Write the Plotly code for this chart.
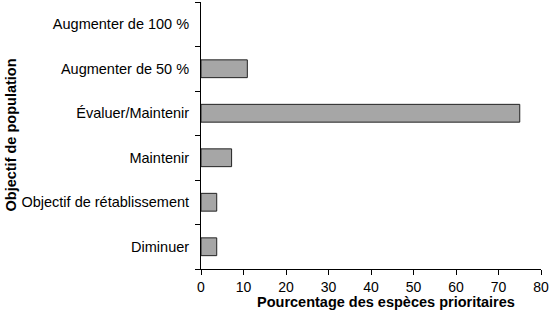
import plotly.graph_objects as go

categories = ["Diminuer", "Objectif de rétablissement", "Maintenir",
              "Évaluer/Maintenir", "Augmenter de 50 %", "Augmenter de 100 %"]
values = [3.7, 3.7, 7.2, 75.0, 10.9, 0.0]
x_ticks = [0, 10, 20, 30, 40, 50, 60, 70, 80]

FONT = "Liberation Sans, Arial, sans-serif"

fig = go.Figure(go.Bar(
    x=values, y=categories, orientation="h", width=0.4,
    marker=dict(color="#a6a6a6",
                line=dict(color="#222222", width=[1 if v > 0 else 0 for v in values])),
))

fig.update_layout(
    width=550, height=315,
    margin=dict(l=201, r=9, t=2, b=46),
    paper_bgcolor="white", plot_bgcolor="white",
    font=dict(family=FONT, size=14.5, color="black"),
    showlegend=False,
    xaxis=dict(range=[0, 80], tickvals=x_ticks, showgrid=False, zeroline=False,
               showline=True, linecolor="black", linewidth=1,
               ticks="outside", ticklen=5, tickcolor="black",
               tickfont=dict(size=14), fixedrange=True),
    yaxis=dict(type="category", categoryorder="array", categoryarray=categories,
               range=[-0.5, 5.5], showgrid=False, zeroline=False,
               showline=True, linecolor="black", linewidth=1,
               ticks="outside", ticklen=5, tickcolor="black", tickson="boundaries",
               ticklabelstandoff=8, tickfont=dict(size=14.5), fixedrange=True),
    annotations=[
        dict(text="<b>Pourcentage des espèces prioritaires</b>", xref="paper", yref="paper",
             x=(386 - 201) / 340, y=-(302 - 269) / 267, xanchor="center", yanchor="middle",
             showarrow=False, font=dict(size=14.5)),
        dict(text="<b>Objectif de population</b>", xref="paper", yref="paper",
             x=-(201 - 10) / 340, y=0.5, xanchor="center", yanchor="middle",
             textangle=-90, showarrow=False, font=dict(size=14.5)),
    ],
)

fig.write_html("out.html")
